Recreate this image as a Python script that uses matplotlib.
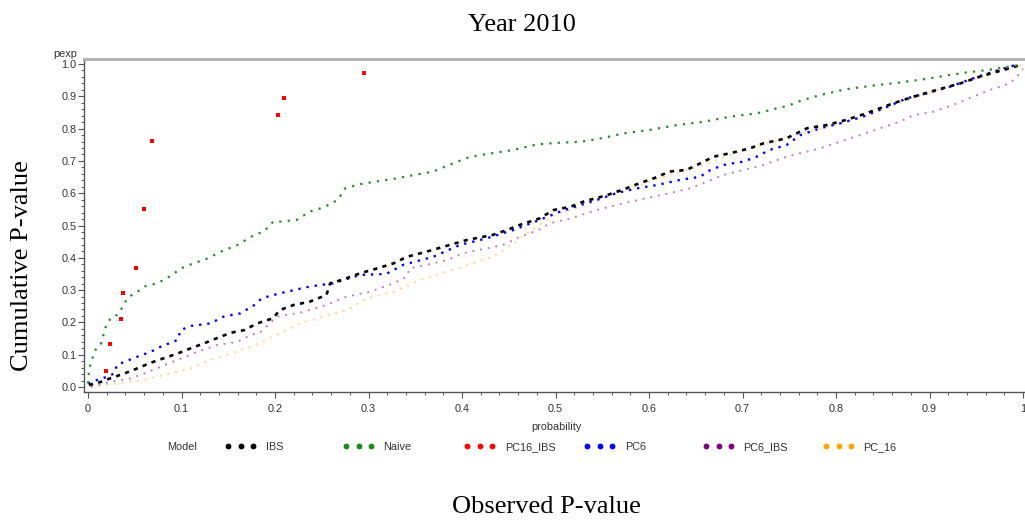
import matplotlib
matplotlib.use("Agg")
import matplotlib.pyplot as plt
from matplotlib.lines import Line2D
from matplotlib.ticker import MultipleLocator

# ---------------- data ----------------
models = ["IBS", "Naive", "PC16_IBS", "PC6", "PC6_IBS", "PC_16"]
model_colors = ["#000000", "#1e8a1e", "#ff0000", "#0000ff", "#800080", "#ffa500"]

ibs_x = [0.001, 0.014, 0.024, 0.039, 0.053, 0.067, 0.081, 0.096, 0.110, 0.124,
         0.142, 0.153, 0.167, 0.181, 0.198, 0.205, 0.220, 0.237, 0.255, 0.259,
         0.273, 0.291, 0.309, 0.327, 0.341, 0.362, 0.380, 0.405, 0.433, 0.448,
         0.462, 0.483, 0.498, 0.516, 0.530, 0.555, 0.573, 0.590, 0.605, 0.622,
         0.640, 0.651, 0.669, 0.687, 0.708, 0.722, 0.747, 0.769, 0.790, 0.811,
         0.829, 0.847, 0.861, 0.883, 0.908, 0.933, 0.954, 0.972, 0.986, 0.995]
ibs_y = [0.006, 0.016, 0.027, 0.042, 0.058, 0.075, 0.089, 0.104, 0.120, 0.135,
         0.156, 0.168, 0.176, 0.197, 0.213, 0.238, 0.254, 0.264, 0.285, 0.321,
         0.333, 0.352, 0.367, 0.383, 0.403, 0.419, 0.434, 0.455, 0.471, 0.486,
         0.502, 0.522, 0.548, 0.558, 0.574, 0.594, 0.612, 0.631, 0.646, 0.667,
         0.672, 0.687, 0.713, 0.724, 0.739, 0.754, 0.770, 0.801, 0.811, 0.827,
         0.844, 0.863, 0.878, 0.899, 0.920, 0.940, 0.961, 0.976, 0.987, 0.995]

naive_x = [0.000, 0.001, 0.004, 0.008, 0.014, 0.017, 0.020, 0.026, 0.031, 0.035,
           0.040, 0.044, 0.053, 0.060, 0.071, 0.081, 0.090, 0.099, 0.113, 0.128,
           0.142, 0.160, 0.178, 0.188, 0.198, 0.205, 0.223, 0.237, 0.252, 0.267,
           0.275, 0.291, 0.312, 0.330, 0.348, 0.369, 0.391, 0.409, 0.433, 0.455,
           0.480, 0.501, 0.526, 0.544, 0.573, 0.601, 0.630, 0.658, 0.687, 0.715,
           0.737, 0.749, 0.762, 0.783, 0.811, 0.844, 0.861, 0.897, 0.915, 0.940,
           0.961, 0.986, 1.000]
naive_y = [0.011, 0.053, 0.084, 0.115, 0.135, 0.166, 0.197, 0.218, 0.223, 0.238,
           0.264, 0.280, 0.295, 0.311, 0.319, 0.331, 0.347, 0.367, 0.383, 0.398,
           0.419, 0.440, 0.471, 0.481, 0.512, 0.512, 0.517, 0.543, 0.556, 0.579,
           0.615, 0.628, 0.638, 0.646, 0.656, 0.667, 0.693, 0.713, 0.724, 0.734,
           0.751, 0.756, 0.759, 0.767, 0.785, 0.796, 0.811, 0.821, 0.837, 0.847,
           0.863, 0.871, 0.886, 0.904, 0.922, 0.935, 0.940, 0.954, 0.963, 0.974,
           0.981, 0.992, 0.999]

pc16ibs_x = [0.019, 0.024, 0.035, 0.037, 0.051, 0.060, 0.068, 0.203, 0.210, 0.295]
pc16ibs_y = [0.050, 0.132, 0.209, 0.290, 0.367, 0.551, 0.763, 0.841, 0.894, 0.972]

pc6_x = [0.000, 0.010, 0.021, 0.028, 0.031, 0.039, 0.053, 0.067, 0.078, 0.096,
         0.099, 0.110, 0.131, 0.145, 0.163, 0.178, 0.186, 0.205, 0.237, 0.262,
         0.291, 0.319, 0.337, 0.369, 0.398, 0.426, 0.455, 0.487, 0.505, 0.526,
         0.544, 0.565, 0.587, 0.608, 0.633, 0.655, 0.662, 0.679, 0.701, 0.715,
         0.729, 0.747, 0.762, 0.783, 0.804, 0.829, 0.851, 0.876, 0.897, 0.922,
         0.947, 0.968, 0.986, 0.994]
pc6_y = [0.011, 0.022, 0.032, 0.042, 0.068, 0.078, 0.094, 0.109, 0.125, 0.146,
         0.176, 0.189, 0.197, 0.218, 0.228, 0.254, 0.275, 0.290, 0.311, 0.321,
         0.347, 0.350, 0.378, 0.403, 0.440, 0.460, 0.486, 0.522, 0.543, 0.563,
         0.579, 0.600, 0.615, 0.625, 0.641, 0.651, 0.667, 0.687, 0.698, 0.713,
         0.734, 0.749, 0.780, 0.801, 0.816, 0.837, 0.863, 0.894, 0.909, 0.930,
         0.956, 0.976, 0.992, 0.999]

pc6ibs_x = [0.003, 0.024, 0.046, 0.060, 0.078, 0.096, 0.117, 0.138, 0.160, 0.174,
            0.185, 0.202, 0.227, 0.255, 0.277, 0.302, 0.312, 0.327, 0.341, 0.344,
            0.362, 0.384, 0.401, 0.426, 0.444, 0.462, 0.482, 0.494, 0.516, 0.544,
            0.573, 0.601, 0.622, 0.644, 0.662, 0.679, 0.701, 0.722, 0.747, 0.762,
            0.783, 0.804, 0.826, 0.847, 0.868, 0.883, 0.904, 0.925, 0.947, 0.965,
            0.986, 0.995, 1.000]
pc6ibs_y = [0.001, 0.016, 0.027, 0.042, 0.063, 0.084, 0.109, 0.130, 0.140, 0.161,
            0.171, 0.218, 0.230, 0.254, 0.280, 0.295, 0.306, 0.321, 0.342, 0.367,
            0.378, 0.393, 0.414, 0.429, 0.440, 0.465, 0.486, 0.507, 0.522, 0.548,
            0.569, 0.587, 0.600, 0.615, 0.636, 0.656, 0.672, 0.687, 0.713, 0.724,
            0.739, 0.759, 0.780, 0.801, 0.821, 0.842, 0.852, 0.873, 0.899, 0.920,
            0.940, 0.966, 0.985]

pc16_x = [0.003, 0.031, 0.060, 0.088, 0.110, 0.131, 0.153, 0.174, 0.186, 0.205,
          0.227, 0.252, 0.277, 0.298, 0.327, 0.355, 0.384, 0.412, 0.433, 0.455,
          0.480, 0.500, 0.530, 0.560, 0.590, 0.620, 0.650, 0.680, 0.710, 0.740,
          0.770, 0.800, 0.830, 0.860, 0.890, 0.920, 0.950, 0.980, 1.000]
pc16_y = [0.000, 0.011, 0.022, 0.042, 0.058, 0.084, 0.104, 0.125, 0.140, 0.166,
          0.197, 0.218, 0.238, 0.275, 0.295, 0.331, 0.357, 0.383, 0.403, 0.445,
          0.496, 0.535, 0.560, 0.595, 0.625, 0.655, 0.680, 0.710, 0.740, 0.765,
          0.790, 0.812, 0.840, 0.870, 0.900, 0.930, 0.955, 0.985, 0.998]

xtick_vals = [0.0, 0.1, 0.2, 0.3, 0.4, 0.5, 0.6, 0.7, 0.8, 0.9, 1.0]
xtick_labels = ["0", "0.1", "0.2", "0.3", "0.4", "0.5", "0.6", "0.7", "0.8", "0.9", "1"]
ytick_vals = [0.0, 0.1, 0.2, 0.3, 0.4, 0.5, 0.6, 0.7, 0.8, 0.9, 1.0]
ytick_labels = ["0.0", "0.1", "0.2", "0.3", "0.4", "0.5", "0.6", "0.7", "0.8", "0.9", "1.0"]

# ---------------- figure ----------------
W, H = 1025, 521
fig = plt.figure(figsize=(W / 100, H / 100), dpi=100)
ax = fig.add_axes([84 / W, 1 - 392 / H, (W - 84) / W, (392 - 59) / H])

small_font = "Liberation Sans"
txt_col = "#333333"
serif = "Liberation Serif"

# drawing order: light ones first
ax.plot(pc16_x, pc16_y, color="#ffa500", alpha=0.45, lw=1.4,
        linestyle=(0, (1, 3.0)), dash_capstyle="butt")
ax.plot(pc6ibs_x, pc6ibs_y, color="#800080", alpha=0.5, lw=1.4,
        linestyle=(0, (1, 3.0)), dash_capstyle="butt")
ax.plot(pc6_x, pc6_y, color="#0000ff", lw=1.7,
        linestyle=(0, (1, 2.5)), dash_capstyle="butt")
ax.plot(ibs_x, ibs_y, color="#000000", lw=1.9,
        linestyle=(0, (1.6, 2.0)), dash_capstyle="butt")
ax.plot(naive_x, naive_y, color="#2a8a2a", lw=1.6,
        linestyle=(0, (1, 2.8)), dash_capstyle="butt")
ax.plot(pc16ibs_x, pc16ibs_y, linestyle="None", marker="s", ms=2.2,
        color="#ff0000", markeredgewidth=0)

ax.set_xlim(-0.0043, (W - 88) / 935)
ax.set_ylim(-0.0155, 1.0155)

ax.set_xticks(xtick_vals)
ax.set_xticklabels(xtick_labels)
ax.set_yticks(ytick_vals)
ax.set_yticklabels(ytick_labels)
ax.xaxis.set_minor_locator(MultipleLocator(0.02))
ax.yaxis.set_minor_locator(MultipleLocator(0.02))
ax.tick_params(which="major", direction="out", length=4, width=0.8,
               color="#555555", labelsize=7.8, labelcolor=txt_col)
ax.tick_params(which="minor", direction="out", length=2.5, width=0.7,
               color="#555555")
ax.tick_params(axis="x", which="major", pad=4.5)
ax.tick_params(axis="y", which="major", pad=1.5)
for lab in ax.get_xticklabels() + ax.get_yticklabels():
    lab.set_fontfamily(small_font)

ax.spines["right"].set_visible(False)
ax.spines["top"].set_color("#b4b4b4")
ax.spines["top"].set_linewidth(2.2)
for s in ("left", "bottom"):
    ax.spines[s].set_color("#555555")
    ax.spines[s].set_linewidth(1.0)

# axis-internal labels
fig.text(53 / W, 1 - 54 / H, "pexp", fontsize=7.8, family=small_font,
         color=txt_col, ha="left", va="center")
fig.text(556 / W, 1 - 427 / H, "probability", fontsize=7.8, family=small_font,
         color=txt_col, ha="center", va="center")

# outer titles
fig.text(522 / W, 1 - 25 / H, "Year 2010", fontsize=19, family=serif,
         ha="center", va="center")
fig.text(22 / W, 1 - 266 / H, "Cumulative P-value", fontsize=19, family=serif,
         ha="center", va="center", rotation=90)
fig.text(546 / W, 1 - 507 / H, "Observed P-value", fontsize=19, family=serif,
         ha="center", va="center")

# legend
leg_y = 1 - 447 / H
fig.text(167 / W, leg_y, "Model", fontsize=7.8, family=small_font,
         color=txt_col, ha="left", va="center")
leg_x = [228, 346, 467, 587, 706, 826]
for name, col, lx in zip(models, model_colors, leg_x):
    h = Line2D([], [], linestyle="None", marker="o", ms=4.2, color=col,
               markeredgewidth=0)
    lg = fig.legend(handles=[h], labels=[name], loc="center left",
                    bbox_to_anchor=((lx - 3) / W, leg_y), frameon=False,
                    numpoints=3, handlelength=2.9, handletextpad=0.85,
                    borderpad=0, borderaxespad=0,
                    prop={"family": small_font, "size": 7.8})
    for t in lg.get_texts():
        t.set_color(txt_col)

fig.savefig("out.png", dpi=100)
